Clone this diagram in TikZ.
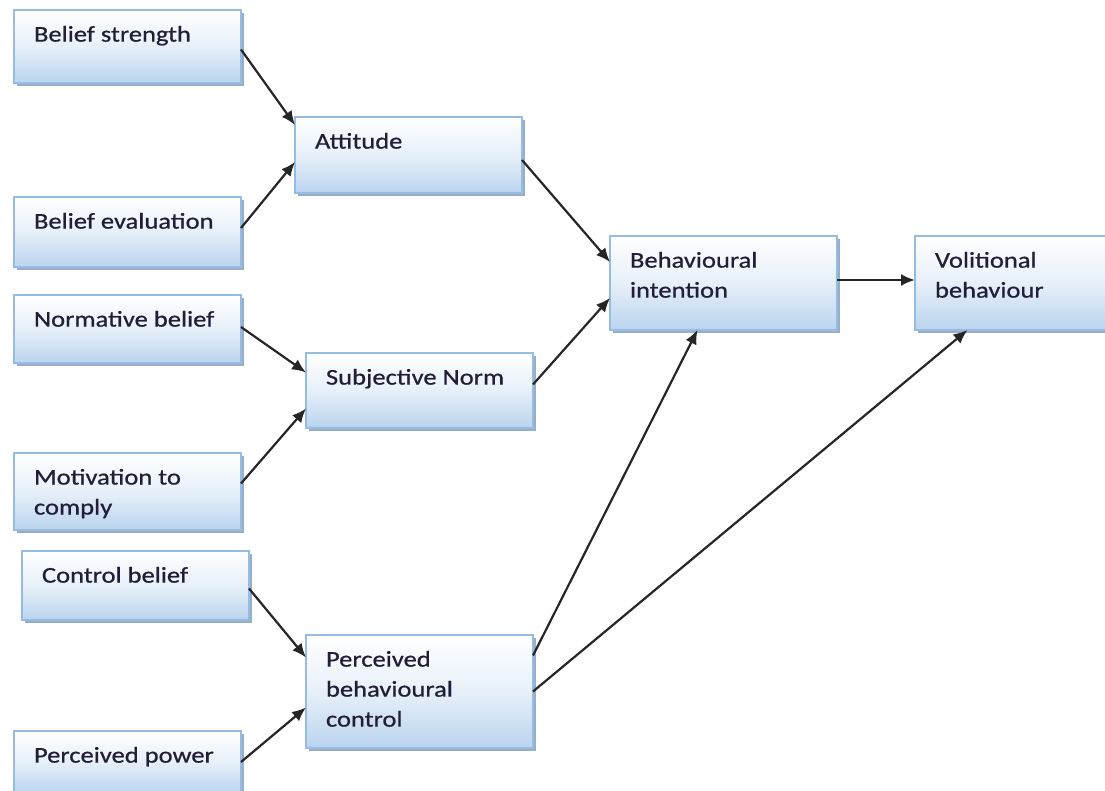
\documentclass[tikz,border=0pt]{standalone}
\usepackage{fontspec}
\setmainfont{Carlito}[FakeStretch=1.18, FakeBold=0.7]
\usepackage{tikz}
\usepackage{xcolor}
\usetikzlibrary{arrows.meta,shadows}

\definecolor{boxblue}{RGB}{186,212,238}
\definecolor{boxedge}{RGB}{150,188,226}
\definecolor{shadowblue}{RGB}{140,164,194}
\definecolor{txtdark}{RGB}{34,30,56}

\newcommand{\boxtext}[2]{\parbox[t][#1][t]{93.5pt}{#2}}

\tikzset{
	tpbox/.style={draw=boxedge, line width=.6pt, top color=white, bottom color=boxblue, middle color=boxblue!35,
		drop shadow={shadow xshift=1.5pt, shadow yshift=-1.5pt, fill=shadowblue, opacity=.9},
		anchor=north west, inner xsep=10pt, inner ysep=8pt, outer sep=0pt, text=txtdark,
		font=\fontsize{11.25}{15}\selectfont},
	tparrow/.style={-{Latex[length=7pt,width=6pt]}, line width=1.1pt, black!85}
}

\begin{document}
\begin{tikzpicture}[x=.5pt, y=-.5pt]
	\useasboundingbox (0,0) rectangle (1105,791);
	\clip (0,0) rectangle (1105,791);

	% beliefs on the left
	\node[tpbox] (bs) at (14,10) {\boxtext{20.5pt}{Belief strength}};
	\node[tpbox] (be) at (14,197) {\boxtext{19pt}{Belief evaluation}};
	\node[tpbox] (nb) at (14,295) {\boxtext{18pt}{Normative belief}};
	\node[tpbox] (mc) at (14,453) {\boxtext{22.5pt}{Motivation to\\comply}};
	\node[tpbox] (cb) at (22,551) {\boxtext{18.5pt}{Control belief}};
	\node[tpbox] (pp) at (14,731) {\boxtext{15pt}{Perceived power}};

	% middle column
	\node[tpbox] (att) at (295,117) {\boxtext{22pt}{Attitude}};
	\node[tpbox] (sn) at (306,353) {\boxtext{21.5pt}{Subjective Norm}};
	\node[tpbox] (pbc) at (306,635) {\boxtext{40.5pt}{Perceived\\behavioural\\control}};

	\node[tpbox] (bi) at (610,236) {\boxtext{31pt}{Behavioural\\intention}};
	\node[tpbox] (vb) at (915,236) {\boxtext{31pt}{Volitional\\behaviour}};

	\draw[tparrow] ([yshift=-1.5pt]bs.east) -- ([yshift=15pt]att.west);
	\draw[tparrow] ([yshift=2pt]be.east) -- ([yshift=-3.5pt]att.west);
	\draw[tparrow] ([yshift=1pt]nb.east) -- ([yshift=9pt]sn.west);
	\draw[tparrow] ([yshift=4pt]mc.east) -- ([yshift=-9pt]sn.west);
	\draw[tparrow] ([yshift=-1.5pt]cb.east) -- ([yshift=17pt]pbc.west);
	\draw[tparrow] (pp.east) -- ([yshift=-8pt]pbc.west);

	\draw[tparrow] ([yshift=-2.5pt]att.east) -- ([yshift=10.5pt]bi.west);
	\draw[tparrow] ([yshift=3pt]sn.east) -- ([yshift=-7.5pt]bi.west);
	\draw[tparrow] ([yshift=18pt]pbc.east) -- ([xshift=-13pt]bi.south);
	\draw[tparrow] (pbc.east) -- ([xshift=-30.5pt]vb.south);
	\draw[tparrow] ([yshift=1.5pt]bi.east) -- ([yshift=1.5pt]vb.west);
\end{tikzpicture}
\end{document}
